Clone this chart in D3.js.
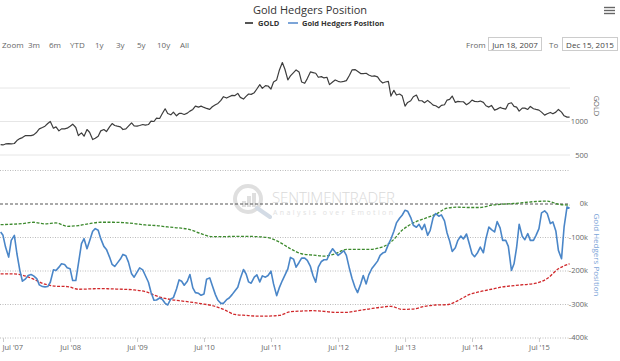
<!DOCTYPE html>
<html>
<head>
<meta charset="utf-8">
<script src="https://cdn.jsdelivr.net/npm/d3@7"></script>
<style>
  body { margin: 0; background: #fff; }
  svg { font-family: "Open Sans", sans-serif; }
</style>
</head>
<body>
<div id="chart"></div>
<script>
// gold price, semi-monthly (1st / 15th) from Jun 2007
const goldValues = [
  655, 650, 665, 670, 665, 672, 715, 745, 760, 790, 790, 790, 800,
  840, 890, 910, 930, 970, 1000, 900, 920, 860, 890, 890, 900, 930, 960, 910, 790, 830, 780, 880, 840, 730, 750, 780, 860,
  880, 850, 920, 970, 940, 930, 920, 880, 890, 930, 980, 935, 930, 940, 955, 945, 955, 1005, 1000, 1050, 1045, 1115, 1190, 1120,
  1100, 1140, 1085, 1120, 1120, 1105, 1125, 1155, 1180, 1230, 1215, 1230, 1210, 1195, 1180, 1220, 1250, 1270, 1315, 1370, 1350, 1370, 1390, 1385,
  1420, 1360, 1335, 1375, 1410, 1405, 1430, 1485, 1550, 1495, 1535, 1530, 1485, 1590, 1620, 1760, 1880, 1780, 1620, 1680, 1730, 1770, 1740, 1590,
  1570, 1640, 1740, 1730, 1720, 1660, 1670, 1650, 1660, 1550, 1590, 1620, 1600, 1590, 1600, 1610, 1690, 1770, 1775, 1750, 1715, 1715, 1720, 1695,
  1675, 1680, 1665, 1610, 1575, 1590, 1600, 1380, 1465, 1395, 1410, 1385, 1230, 1285, 1310, 1370, 1395, 1310, 1310, 1280, 1315, 1285, 1245, 1235,
  1205, 1240, 1250, 1320, 1330, 1380, 1285, 1300, 1295, 1295, 1250, 1275, 1320, 1300, 1295, 1305, 1285, 1235, 1215, 1240, 1170, 1185, 1210, 1195,
  1185, 1265, 1280, 1225, 1215, 1155, 1200, 1200, 1180, 1225, 1190, 1180, 1170, 1140, 1095, 1115, 1135, 1115, 1140, 1180, 1140, 1085, 1065, 1065
];

// hedgers net position (thousands of contracts), same dates as gold
const hedgersValues = [
  -85, -95, -130, -160, -110, -95, -150, -200, -232, -225,
  -215, -212, -216, -224, -243, -248, -249, -248, -235, -198,
  -200, -190, -180, -182, -192, -195, -230, -230, -180, -120,
  -105, -135, -112, -83, -75, -80, -105, -128, -137, -160,
  -182, -188, -178, -166, -152, -156, -175, -210, -220, -205,
  -192, -198, -215, -235, -265, -289, -288, -282, -286, -298,
  -303, -285, -281, -255, -228, -232, -244, -232, -212, -252,
  -266, -268, -274, -270, -226, -222, -245, -272, -289, -298,
  -298, -287, -282, -272, -262, -250, -224, -197, -210, -234,
  -238, -220, -213, -234, -216, -220, -215, -202, -240, -275,
  -252, -230, -214, -195, -161, -166, -190, -176, -163, -163,
  -170, -188, -215, -235, -190, -173, -168, -168, -150, -135,
  -145, -155, -149, -141, -155, -195, -224, -250, -266, -240,
  -215, -240, -213, -194, -184, -172, -155, -148, -145, -122,
  -106, -83, -58, -44, -35, -20, -23, -42, -65, -71,
  -62, -78, -62, -95, -80, -42, -30, -38, -34, -52,
  -88, -112, -143, -132, -110, -97, -106, -91, -118, -150,
  -159, -146, -130, -147, -105, -70, -78, -85, -54, -73,
  -110, -110, -128, -200, -180, -132, -62, -98, -108, -90,
  -110, -110, -95, -75, -28, -22, -30, -60, -55, -82,
  -140, -165, -70, -10, -14
];

// upper / lower bands, every two months from Jun 2007
const upperBand = [
  -63, -62, -60, -56, -61, -58, -68, -66, -60, -56, -56, -57, -60, -64, -66, -70, -73, -78,
  -90, -99, -99, -98, -98, -99, -102, -115, -135, -150, -154, -157, -150, -137, -137, -137,
  -132, -115, -80, -58, -45, -32, -14, -11, -12, -12, -5, -2, 0, 3, 6, 7, -2, -5
];
const lowerBand = [
  -210, -210, -214, -226, -241, -247, -248, -256, -255, -254, -255, -256, -258, -263, -276, -285, -290, -294,
  -299, -305, -316, -331, -334, -336, -336, -334, -323, -321, -320, -322, -325, -325, -320, -315,
  -310, -307, -316, -315, -307, -303, -302, -290, -272, -263, -256, -249, -245, -242, -238, -224, -195, -180
];

const goldTicks = [500, 1000, 1500];
const goldTickLabels = ["500", "1000"];
const hedgersTicks = [100, 0, -100, -200, -300, -400];
const hedgersTickLabels = [0, -100, -200, -300, -400];
const xTickYears = [2007, 2008, 2009, 2010, 2011, 2012, 2013, 2014, 2015];
const zoomButtons = ["3m", "6m", "YTD", "1y", "3y", "5y", "10y", "All"];

const startDate = new Date(2007, 5, 18);
const endDate = new Date(2015, 11, 15);

// semi-monthly dates: Jun 15, Jul 1, Jul 15, ...
function halfMonthDate(k) {
  if (k === 0) return startDate;
  const m = Math.floor((k + 1) / 2);
  return new Date(2007, 5 + m, k % 2 === 1 ? 1 : 15);
}
function bandDate(j) {
  if (j === 0) return startDate;
  return new Date(2007, 5 + 2 * j, 15);
}

const gold = goldValues.map((v, i) => ({ date: halfMonthDate(i), value: v }));
const hedgers = hedgersValues.map((v, i) => ({ date: halfMonthDate(i), value: v }));
const upper = upperBand.map((v, i) => ({ date: bandDate(i), value: v }));
const lower = lowerBand.map((v, i) => ({ date: bandDate(i), value: v }));

const width = 620, height = 361;

const svg = d3.select("#chart")
  .append("svg")
  .attr("width", width)
  .attr("height", height);

const x = d3.scaleTime()
  .domain([startDate, endDate])
  .range([0.6, 569.6]);

const yGold = d3.scaleLinear()
  .domain([500, 1000])
  .range([155, 121.5]);

const yHedge = d3.scaleLinear()
  .domain([-400, 100])
  .range([337.5, 170]);

// title + legend
svg.append("text")
  .attr("x", 310).attr("y", 14)
  .attr("text-anchor", "middle")
  .style("font-size", "11px")
  .style("fill", "#333")
  .text("Gold Hedgers Position");

const legend = svg.append("g").style("font-size", "7.5px").style("font-weight", "bold").style("fill", "#333");
legend.append("line").attr("x1", 245).attr("x2", 253).attr("y1", 23).attr("y2", 23)
  .attr("stroke", "#555").attr("stroke-width", 2);
legend.append("text").attr("x", 258).attr("y", 25.5).text("GOLD");
legend.append("line").attr("x1", 288).attr("x2", 298).attr("y1", 23).attr("y2", 23)
  .attr("stroke", "#7ca5d8").attr("stroke-width", 2);
legend.append("text").attr("x", 302).attr("y", 25.5).text("Gold Hedgers Position");

// menu icon
[0, 1, 2].forEach(i => {
  svg.append("line")
    .attr("x1", 604).attr("x2", 615)
    .attr("y1", 7.5 + i * 3).attr("y2", 7.5 + i * 3)
    .attr("stroke", "#666").attr("stroke-width", 1.4);
});

// range selector
const rs = svg.append("g").style("font-size", "8px").style("fill", "#666");
rs.append("text").attr("x", 2).attr("y", 47.5).text("Zoom");
const btnX = [28, 49, 70, 95, 116, 137, 157, 180];
zoomButtons.forEach((b, i) => {
  rs.append("text").attr("x", btnX[i]).attr("y", 47.5).text(b);
});
rs.append("text").attr("x", 466).attr("y", 47.5).text("From");
rs.append("rect").attr("x", 488.5).attr("y", 37.5).attr("width", 53).attr("height", 13)
  .attr("fill", "#fff").attr("stroke", "#ccc");
rs.append("text").attr("x", 515).attr("y", 47.5).attr("text-anchor", "middle").style("fill", "#444").text("Jun 18, 2007");
rs.append("text").attr("x", 549).attr("y", 47.5).text("To");
rs.append("rect").attr("x", 562.5).attr("y", 37.5).attr("width", 55).attr("height", 13)
  .attr("fill", "#fff").attr("stroke", "#ccc");
rs.append("text").attr("x", 590).attr("y", 47.5).attr("text-anchor", "middle").style("fill", "#444").text("Dec 15, 2015");

// watermark
const wm = svg.append("g").attr("opacity", 0.9);
wm.append("circle").attr("cx", 248).attr("cy", 199).attr("r", 13)
  .attr("fill", "none").attr("stroke", "#dcdcdc").attr("stroke-width", 4);
wm.append("line").attr("x1", 257).attr("y1", 208).attr("x2", 270).attr("y2", 217)
  .attr("stroke", "#cfd8e3").attr("stroke-width", 4).attr("stroke-linecap", "round");
[[242, 201, 4, 6], [247, 196, 4, 11], [252, 193, 4, 14]].forEach(r => {
  wm.append("rect").attr("x", r[0]).attr("y", r[1]).attr("width", r[2]).attr("height", r[3]).attr("fill", "#dcdcdc");
});
wm.append("text").attr("x", 272).attr("y", 203)
  .style("font-size", "15px").style("fill", "#d6d6d6").style("font-weight", "300")
  .attr("textLength", 123).text("SENTIMENTRADER");
wm.append("text").attr("x", 273).attr("y", 214.5)
  .style("font-size", "7px").style("fill", "#dedede")
  .attr("textLength", 120).text("Analysis over Emotion");

// gridlines - gold pane
svg.append("g")
  .selectAll("line")
  .data(goldTicks)
  .join("line")
  .attr("x1", 0).attr("x2", 570)
  .attr("y1", d => yGold(d)).attr("y2", d => yGold(d))
  .attr("stroke", "#e6e6e6").attr("stroke-width", 1);

// gridlines - hedgers pane
svg.append("g")
  .selectAll("line")
  .data(hedgersTicks)
  .join("line")
  .attr("x1", 0).attr("x2", 570)
  .attr("y1", d => yHedge(d) + 0.5).attr("y2", d => yHedge(d) + 0.5)
  .attr("stroke", d => d === 0 ? "#555" : "#bbb")
  .attr("stroke-dasharray", d => d === 0 ? "3,2" : "1,1.5")
  .attr("stroke-width", 1);

// right axes labels
const axisR = svg.append("g").style("font-size", "7.5px").style("fill", "#666").attr("text-anchor", "end");
axisR.selectAll(".gl")
  .data(goldTickLabels)
  .join("text")
  .attr("x", 588).attr("y", d => yGold(+d) + 2.5)
  .text(d => d);
axisR.selectAll(".hl")
  .data(hedgersTickLabels)
  .join("text")
  .attr("x", 588).attr("y", d => yHedge(d) + 2.5)
  .text(d => d + "k");

svg.append("text")
  .attr("transform", "translate(594,106) rotate(90)")
  .attr("text-anchor", "middle")
  .style("font-size", "7.5px").style("fill", "#666")
  .text("GOLD");
svg.append("text")
  .attr("transform", "translate(594,255) rotate(90)")
  .attr("text-anchor", "middle")
  .style("font-size", "8px").style("fill", "#7ca5d8")
  .text("Gold Hedgers Position");

// x axis
const xTickDates = xTickYears.map(y => new Date(y, 6, 1));
const xAxis = svg.append("g")
  .attr("transform", "translate(0,338)")
  .call(d3.axisBottom(x).tickValues(xTickDates).tickSize(4)
    .tickFormat(d => "Jul '" + d3.timeFormat("%y")(d)));
xAxis.select(".domain").remove();
xAxis.selectAll(".tick line").attr("stroke", "#ccc");
xAxis.selectAll(".tick text")
  .attr("y", 7)
  .style("font-size", "7.5px").style("fill", "#666")
  .style("font-family", "'Open Sans', sans-serif");
// first label kept inside the chart, like the original
xAxis.select(".tick text")
  .attr("text-anchor", "start")
  .attr("x", -1);

// lines
const lineGold = d3.line().x(d => x(d.date)).y(d => yGold(d.value));
const lineHedge = d3.line().x(d => x(d.date)).y(d => yHedge(d.value));
const lineBand = d3.line().x(d => x(d.date)).y(d => yHedge(d.value)).curve(d3.curveMonotoneX);

svg.append("path").datum(upper)
  .attr("d", lineBand).attr("fill", "none")
  .attr("stroke", "#3d8a2e").attr("stroke-width", 1.3).attr("stroke-dasharray", "3,1.5");
svg.append("path").datum(lower)
  .attr("d", lineBand).attr("fill", "none")
  .attr("stroke", "#d0282b").attr("stroke-width", 1.3).attr("stroke-dasharray", "3,1.5");

svg.append("path").datum(hedgers)
  .attr("d", lineHedge).attr("fill", "none")
  .attr("stroke", "#4a86c8").attr("stroke-width", 1.6)
  .attr("stroke-linejoin", "round");

svg.append("path").datum(gold)
  .attr("d", lineGold).attr("fill", "none")
  .attr("stroke", "#3d3d3d").attr("stroke-width", 1.2)
  .attr("stroke-linejoin", "round");
</script>
</body>
</html>
